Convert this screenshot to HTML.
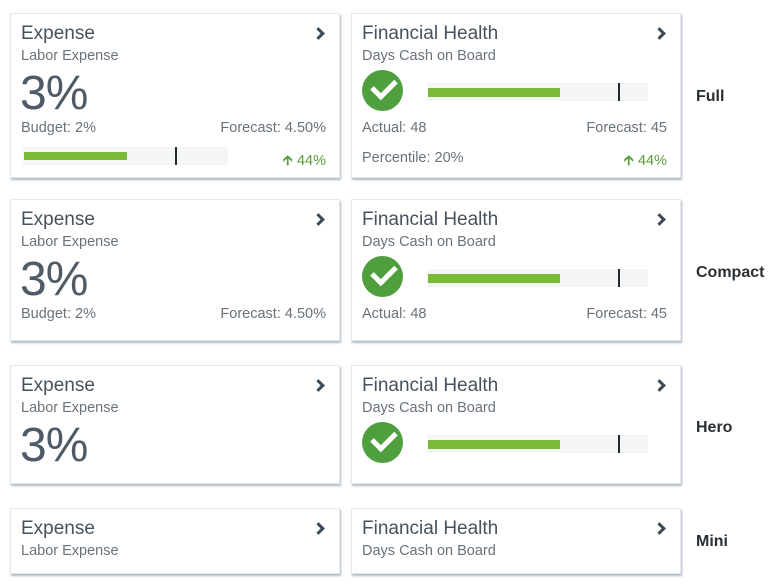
<!DOCTYPE html>
<html><head><style>
body{margin:0;width:776px;height:588px;background:#fff;font-family:"Liberation Sans",sans-serif;color:#4a5661;position:relative;overflow:hidden}
.c{position:absolute;background:#fff;border:1px solid #e6e9ec;box-shadow:1px 2px 2px rgba(80,100,120,.45);box-sizing:border-box}
.t{position:absolute;font-size:19px;color:#46525d}
.s{position:absolute;font-size:14.5px;color:#69737c}
.b{position:absolute;font-size:48px;color:#4f5b66;letter-spacing:-1px}
.m{position:absolute;font-size:14.5px;color:#69737c}
.ch{position:absolute;left:303px;top:15px;width:6px;height:6px;border-right:3px solid #3d4a56;border-top:3px solid #3d4a56;transform:rotate(45deg)}
.lab{position:absolute;left:696px;font-size:16px;font-weight:bold;color:#2a2f33}
.bg{position:absolute;background:#f4f6f6}
.g{position:absolute;background:#7cbb3a}
.mk{position:absolute;width:2px;background:#1f2a33}
.ck{position:absolute;width:41px;height:41px;border-radius:50%;background:#4f9f3f}
.ck:after{content:"";position:absolute;left:10px;top:9px;width:19px;height:10px;border-left:5px solid #fff;border-bottom:5px solid #fff;transform:rotate(-45deg)}
.up{color:#5a9e3b}
</style></head><body>
<!-- Full -->
<div class="c" style="left:10px;top:13px;width:330px;height:165px">
<div class="t" style="left:10px;top:9px">Expense</div><div class="ch"></div>
<div class="s" style="left:10px;top:34px">Labor Expense</div>
<div class="b" style="left:9px;top:52px">3%</div>
<div class="m" style="left:10px;top:106px">Budget: 2%</div><div class="m" style="right:13px;top:106px">Forecast: 4.50%</div>
<div class="bg" style="left:12px;top:133px;width:205px;height:18px"></div>
<div class="g" style="left:13px;top:138px;width:103px;height:8px"></div>
<div class="mk" style="left:164px;top:133px;height:18px"></div>
<div class="m up" style="right:13px;top:136px">&#x1F871; 44%</div>
</div>
<div class="c" style="left:351px;top:13px;width:330px;height:165px">
<div class="t" style="left:10px;top:9px">Financial Health</div><div class="ch"></div>
<div class="s" style="left:10px;top:34px">Days Cash on Board</div>
<div class="ck" style="left:10px;top:56px"></div>
<div class="bg" style="left:75px;top:69px;width:221px;height:18px"></div>
<div class="g" style="left:76px;top:74px;width:132px;height:9px"></div>
<div class="mk" style="left:266px;top:69px;height:18px"></div>
<div class="m" style="left:10px;top:106px">Actual: 48</div><div class="m" style="right:13px;top:106px">Forecast: 45</div>
<div class="m" style="left:10px;top:136px">Percentile: 20%</div><div class="m up" style="right:13px;top:136px">&#x1F871; 44%</div>
</div>
<div class="lab" style="top:88px">Full</div>
<!-- Compact -->
<div class="c" style="left:10px;top:199px;width:330px;height:142px">
<div class="t" style="left:10px;top:9px">Expense</div><div class="ch"></div>
<div class="s" style="left:10px;top:34px">Labor Expense</div>
<div class="b" style="left:9px;top:52px">3%</div>
<div class="m" style="left:10px;top:106px">Budget: 2%</div><div class="m" style="right:13px;top:106px">Forecast: 4.50%</div>
</div>
<div class="c" style="left:351px;top:199px;width:330px;height:142px">
<div class="t" style="left:10px;top:9px">Financial Health</div><div class="ch"></div>
<div class="s" style="left:10px;top:34px">Days Cash on Board</div>
<div class="ck" style="left:10px;top:56px"></div>
<div class="bg" style="left:75px;top:69px;width:221px;height:18px"></div>
<div class="g" style="left:76px;top:74px;width:132px;height:9px"></div>
<div class="mk" style="left:266px;top:69px;height:18px"></div>
<div class="m" style="left:10px;top:106px">Actual: 48</div><div class="m" style="right:13px;top:106px">Forecast: 45</div>
</div>
<div class="lab" style="top:264px">Compact</div>
<!-- Hero -->
<div class="c" style="left:10px;top:365px;width:330px;height:119px">
<div class="t" style="left:10px;top:9px">Expense</div><div class="ch"></div>
<div class="s" style="left:10px;top:34px">Labor Expense</div>
<div class="b" style="left:9px;top:52px">3%</div>
</div>
<div class="c" style="left:351px;top:365px;width:330px;height:119px">
<div class="t" style="left:10px;top:9px">Financial Health</div><div class="ch"></div>
<div class="s" style="left:10px;top:34px">Days Cash on Board</div>
<div class="ck" style="left:10px;top:56px"></div>
<div class="bg" style="left:75px;top:69px;width:221px;height:18px"></div>
<div class="g" style="left:76px;top:74px;width:132px;height:9px"></div>
<div class="mk" style="left:266px;top:69px;height:18px"></div>
</div>
<div class="lab" style="top:419px">Hero</div>
<!-- Mini -->
<div class="c" style="left:10px;top:508px;width:330px;height:66px">
<div class="t" style="left:10px;top:9px">Expense</div><div class="ch"></div>
<div class="s" style="left:10px;top:34px">Labor Expense</div>
</div>
<div class="c" style="left:351px;top:508px;width:330px;height:66px">
<div class="t" style="left:10px;top:9px">Financial Health</div><div class="ch"></div>
<div class="s" style="left:10px;top:34px">Days Cash on Board</div>
</div>
<div class="lab" style="top:533px">Mini</div>
</body></html>
